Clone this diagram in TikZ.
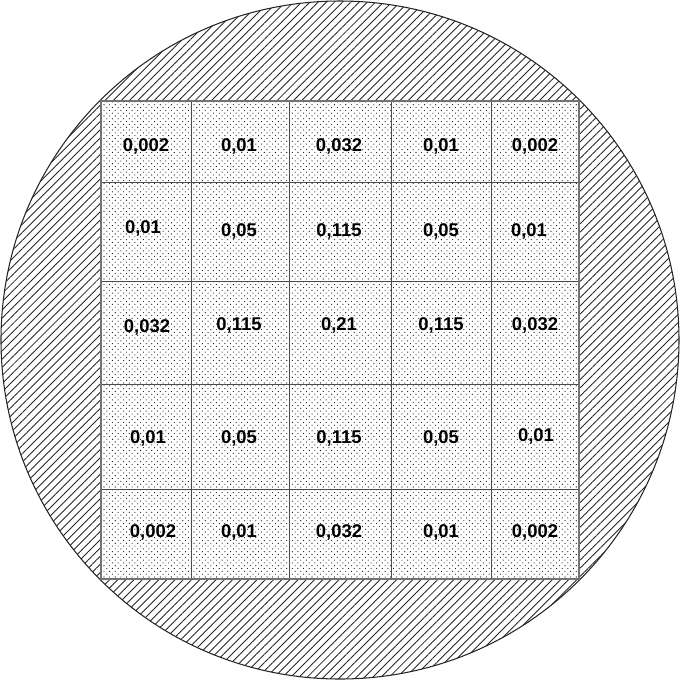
\documentclass[tikz,border=0pt]{standalone}
\usepackage{fontspec}
\setmainfont{Liberation Sans}
\usetikzlibrary{patterns.meta}
\tikzset{
  wafer/.style ={draw=black!85,line width=0.6pt,
                 pattern={Lines[angle=45,distance=3.3pt,line width=0.5pt]},
                 pattern color=black!85},
  field/.style ={preaction={fill=white},
                 preaction={pattern={Dots[distance=3.2pt,radius=0.32pt]},
                            pattern color=black},
                 pattern={Dots[distance=3.2pt,radius=0.32pt,xshift=1.6pt,yshift=1.6pt]},
                 pattern color=black},
  frame/.style ={draw=black!55,line width=0.7pt},
  cellln/.style={draw=black!70,line width=0.5pt},
  val/.style   ={font=\bfseries\fontsize{10.5}{12}\selectfont,inner sep=0pt},
}

\begin{document}
\begin{tikzpicture}[x=0.02cm,y=-0.02cm]
  \useasboundingbox (0,0) rectangle (681,681);
  % wafer and exposure field
  \path[wafer] (340,340) circle[radius=339];
  \path[field] (101,101) rectangle (579,579);
  \foreach \x in {191,289,391,491}
    \draw[cellln] (\x,101) -- (\x,579);
  \foreach \y in {182,281,384,489}
    \draw[cellln] (101,\y) -- (579,\y);
  \draw[frame] (101,101) rectangle (579,579);
  % row 1
  \node[val] (v11) at (146,146) {0,002};
  \node[val] (v12) at (239,146) {0,01};
  \node[val] (v13) at (339,146) {0,032};
  \node[val] (v14) at (441,146) {0,01};
  \node[val] (v15) at (535,146) {0,002};
  % row 2
  \node[val] (v21) at (143,228) {0,01};
  \node[val] (v22) at (239,231) {0,05};
  \node[val] (v23) at (339,231) {0,115};
  \node[val] (v24) at (441,231) {0,05};
  \node[val] (v25) at (529,231) {0,01};
  % row 3
  \node[val] (v31) at (147,327) {0,032};
  \node[val] (v32) at (239,325) {0,115};
  \node[val] (v33) at (339,325) {0,21};
  \node[val] (v34) at (441,325) {0,115};
  \node[val] (v35) at (535,325) {0,032};
  % row 4
  \node[val] (v41) at (148,438) {0,01};
  \node[val] (v42) at (239,438) {0,05};
  \node[val] (v43) at (339,438) {0,115};
  \node[val] (v44) at (441,438) {0,05};
  \node[val] (v45) at (536,436) {0,01};
  % row 5
  \node[val] (v51) at (153,532) {0,002};
  \node[val] (v52) at (239,532) {0,01};
  \node[val] (v53) at (339,532) {0,032};
  \node[val] (v54) at (441,532) {0,01};
  \node[val] (v55) at (535,532) {0,002};
\end{tikzpicture}
\end{document}
